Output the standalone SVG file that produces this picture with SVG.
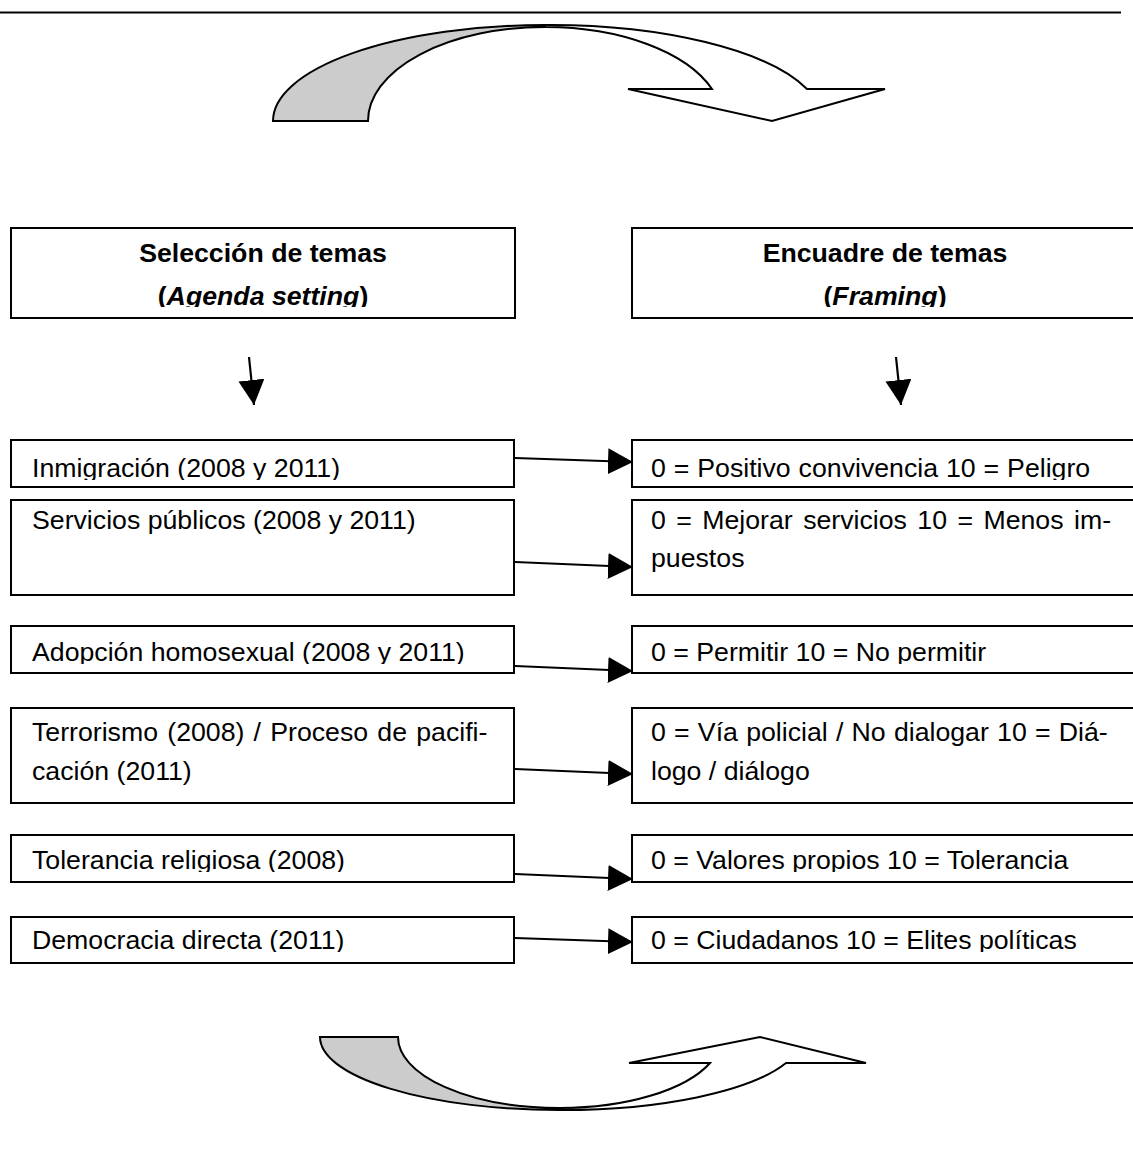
<svg xmlns="http://www.w3.org/2000/svg" width="1133" height="1153" viewBox="0 0 1133 1153">
<style>
.box{fill:#ffffff;stroke:#000000;stroke-width:2}
.t{font-family:"Liberation Sans",Arial,sans-serif;font-size:26.7px;fill:#000000}
.h{font-family:"Liberation Sans",Arial,sans-serif;font-size:26.7px;font-weight:bold;fill:#000000}
.conn{stroke:#000000;stroke-width:2.2;fill:none;marker-end:url(#ah)}
.gray{fill:#cccccc;stroke:#000000;stroke-width:2;stroke-linejoin:miter}
.white{fill:#ffffff;stroke:#000000;stroke-width:2;stroke-linejoin:miter}
</style>
<defs>
<marker id="ah" viewBox="0 0 25 26" refX="25" refY="13" markerWidth="25" markerHeight="26" markerUnits="userSpaceOnUse" orient="auto">
<path d="M0,0 L25,13 L0,26 Z" fill="#000000"/>
</marker>
<clipPath id="cH" clipPathUnits="userSpaceOnUse"><rect x="0" y="228" width="1133" height="79"/></clipPath>
<clipPath id="c1" clipPathUnits="userSpaceOnUse"><rect x="0" y="439" width="1133" height="41"/></clipPath>
<clipPath id="c3" clipPathUnits="userSpaceOnUse"><rect x="0" y="626" width="1133" height="38"/></clipPath>
<clipPath id="c5" clipPathUnits="userSpaceOnUse"><rect x="0" y="835" width="1133" height="37"/></clipPath>
<clipPath id="c6" clipPathUnits="userSpaceOnUse"><rect x="0" y="917" width="1133" height="35"/></clipPath>
</defs>
<rect x="0" y="0" width="1133" height="1153" fill="#ffffff"/>
<line x1="0" y1="12.5" x2="1121" y2="12.5" stroke="#000000" stroke-width="2"/>

<g id="topArrow">
<path class="gray" d="M273,121 A272,96 0 0 1 545,25 L545,27 A177,94 0 0 0 368,121 Z"/>
<path class="white" d="M545,25 A272,96 0 0 1 807,89 L885,89 L772,121 L628,89 L712,89 A177,94 0 0 0 545,27 Z"/>
</g>

<g id="headerLeft">
<rect class="box" x="11" y="228" width="504" height="90"/>
<text class="h" x="263" y="262" text-anchor="middle">Selección de temas</text>
<text class="h" x="263" y="305" text-anchor="middle" clip-path="url(#cH)">(<tspan font-style="italic">Agenda setting</tspan>)</text>
</g>
<g id="headerRight">
<rect class="box" x="632" y="228" width="510" height="90"/>
<text class="h" x="885" y="262" text-anchor="middle">Encuadre de temas</text>
<text class="h" x="885" y="305" text-anchor="middle" clip-path="url(#cH)">(<tspan font-style="italic">Framing</tspan>)</text>
</g>

<g id="row1Left">
<rect class="box" x="11" y="440" width="503" height="47"/>
<text class="t" x="32" y="477" clip-path="url(#c1)">Inmigración (2008 y 2011)</text>
</g>
<g id="row1Right">
<rect class="box" x="632" y="440" width="510" height="47"/>
<text class="t" x="651" y="477" clip-path="url(#c1)" word-spacing="0.5">0 = Positivo convivencia 10 = Peligro</text>
</g>

<g id="row2Left">
<rect class="box" x="11" y="500" width="503" height="95"/>
<text class="t" x="32" y="529">Servicios públicos (2008 y 2011)</text>
</g>
<g id="row2Right">
<rect class="box" x="632" y="500" width="510" height="95"/>
<text class="t" x="651" y="529" word-spacing="3">0 = Mejorar servicios 10 = Menos im-</text>
<text class="t" x="651" y="567">puestos</text>
</g>

<g id="row3Left">
<rect class="box" x="11" y="626" width="503" height="47"/>
<text class="t" x="32" y="661" clip-path="url(#c3)">Adopción homosexual (2008 y 2011)</text>
</g>
<g id="row3Right">
<rect class="box" x="632" y="626" width="510" height="47"/>
<text class="t" x="651" y="661" clip-path="url(#c3)">0 = Permitir 10 = No permitir</text>
</g>

<g id="row4Left">
<rect class="box" x="11" y="708" width="503" height="95"/>
<text class="t" x="32" y="741" word-spacing="1.8">Terrorismo (2008) / Proceso de pacifi-</text>
<text class="t" x="32" y="780">cación (2011)</text>
</g>
<g id="row4Right">
<rect class="box" x="632" y="708" width="510" height="95"/>
<text class="t" x="651" y="741" word-spacing="0.8">0 = Vía policial / No dialogar 10 = Diá-</text>
<text class="t" x="651" y="780">logo / diálogo</text>
</g>

<g id="row5Left">
<rect class="box" x="11" y="835" width="503" height="47"/>
<text class="t" x="32" y="869" clip-path="url(#c5)">Tolerancia religiosa (2008)</text>
</g>
<g id="row5Right">
<rect class="box" x="632" y="835" width="510" height="47"/>
<text class="t" x="651" y="869" clip-path="url(#c5)">0 = Valores propios 10 = Tolerancia</text>
</g>

<g id="row6Left">
<rect class="box" x="11" y="917" width="503" height="46"/>
<text class="t" x="32" y="949" clip-path="url(#c6)">Democracia directa (2011)</text>
</g>
<g id="row6Right">
<rect class="box" x="632" y="917" width="510" height="46"/>
<text class="t" x="651" y="949" clip-path="url(#c6)">0 = Ciudadanos 10 = Elites políticas</text>
</g>

<g id="connectors">
<line class="conn" x1="249" y1="357" x2="254" y2="405"/>
<line class="conn" x1="896" y1="357" x2="901" y2="405"/>
<line class="conn" x1="515" y1="458" x2="633" y2="462"/>
<line class="conn" x1="515" y1="562" x2="633" y2="567"/>
<line class="conn" x1="515" y1="666" x2="633" y2="671"/>
<line class="conn" x1="515" y1="769" x2="633" y2="774"/>
<line class="conn" x1="515" y1="874" x2="633" y2="879"/>
<line class="conn" x1="515" y1="938" x2="633" y2="942"/>
</g>

<g id="bottomArrow">
<path class="gray" d="M320,1037 L398,1037 A161,71 0 0 0 559,1108 L559,1110 A239,73 0 0 1 320,1037 Z"/>
<path class="white" d="M559,1110 A239,73 0 0 0 786,1063 L866,1063 L760,1037 L629,1063 L710,1063 A161,71 0 0 1 559,1108 Z"/>
</g>
</svg>
